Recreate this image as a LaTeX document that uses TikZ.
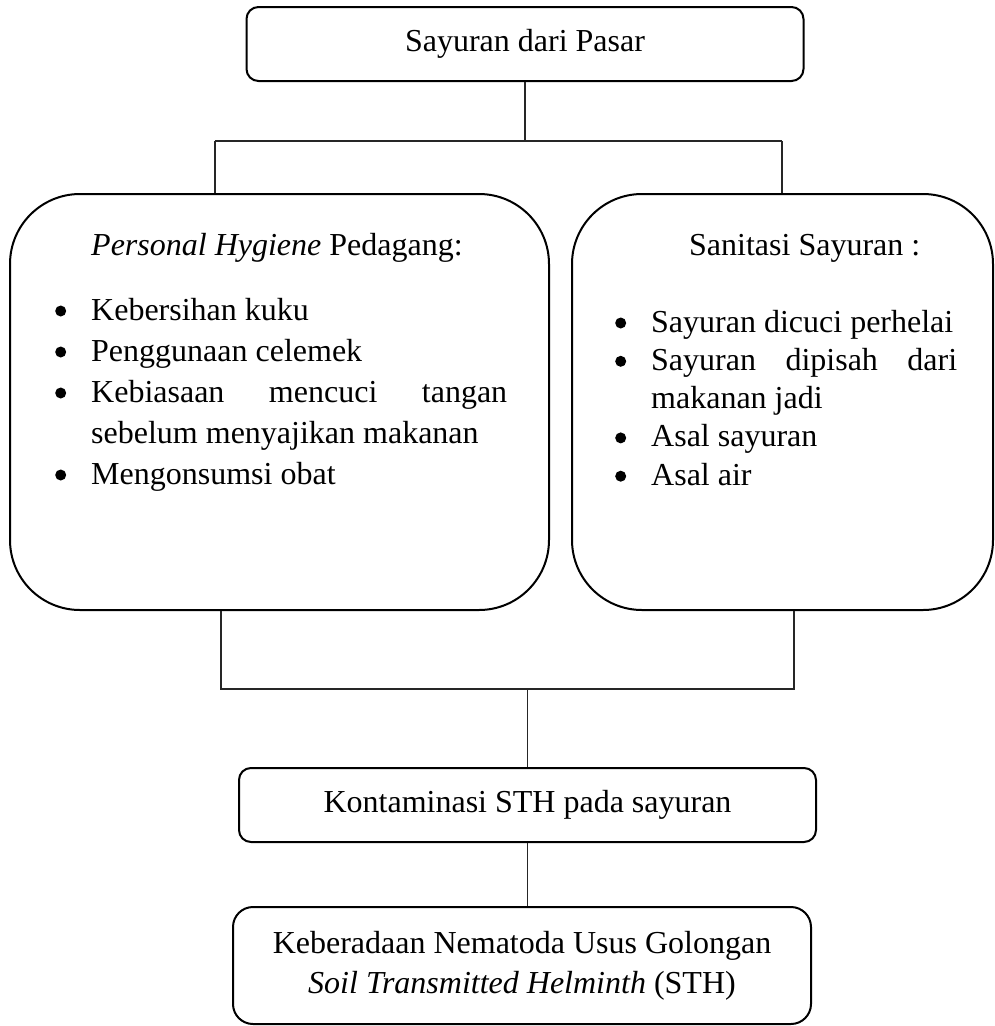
\documentclass[tikz,border=0pt]{standalone}
\usepackage{fontspec}
\setmainfont{Liberation Serif}
\usetikzlibrary{positioning}
\hyphenpenalty=10000
\tolerance=10000
\hbadness=10000
\newcommand{\titik}{\tikz[baseline=0pt]\fill (0pt,9pt) circle[radius=5.5pt];}
\newcommand{\butir}[1]{\par\noindent\llap{\titik\hskip 25pt}#1}

\begin{document}
\begin{tikzpicture}[x=1pt,y=-1pt,
    kotak/.style={draw=black,line width=2pt,rounded corners=12pt,inner sep=0pt,
      font=\fontsize{32}{40}\selectfont},
    kotakbesar/.style={draw=black,line width=2pt,rounded corners=70pt,inner sep=0pt},
    garis/.style={line width=1.3pt,black!85},
    judul/.style={inner sep=0pt,anchor=base west,font=\fontsize{32}{40}\selectfont},
    daftar/.style={inner sep=0pt,anchor=base west}]
  \useasboundingbox (0,0) rectangle (995,1026);
  % kotak
  \node[kotak,minimum width=557pt,minimum height=74pt] (pasar) at (525,44) {Sayuran dari Pasar};
  \node[kotakbesar,minimum width=539pt,minimum height=416pt] (personal) at (279.5,402) {};
  \node[kotakbesar,minimum width=421pt,minimum height=416pt] (sanitasi) at (782.5,402) {};
  \node[kotak,minimum width=577pt,minimum height=74pt] (kontaminasi) at (527.5,805) {Kontaminasi STH pada sayuran};
  \node[kotak,rounded corners=20pt,minimum width=578pt,minimum height=117pt,align=center] (nematoda) at (522,965.5)
    {Keberadaan Nematoda Usus Golongan\\\textit{Soil Transmitted Helminth} (STH)};
  % isi kotak besar
  \node[judul] (judulKiri) at (91,255) {\textit{Personal Hygiene} Pedagang:};
  \node[judul] (judulKanan) at (689,255) {Sanitasi Sayuran :};
  \node[daftar] (daftarKiri) at (91,320) {\fontsize{32}{41}\selectfont\parbox[t]{416pt}{%
    \butir{Kebersihan kuku}
    \butir{Penggunaan celemek}
    \butir{Kebiasaan mencuci tangan sebelum menyajikan makanan}
    \butir{Mengonsumsi obat}}};
  \node[daftar] (daftarKanan) at (651,332) {\fontsize{32}{38.3}\selectfont\parbox[t]{306pt}{%
    \butir{Sayuran dicuci perhelai}
    \butir{Sayuran dipisah dari makanan jadi}
    \butir{Asal sayuran}
    \butir{Asal air}}};
  % garis penghubung
  \coordinate (atasKiri) at (215,141);
  \coordinate (atasKanan) at (782,141);
  \coordinate (bawahKiri) at (221,689);
  \coordinate (bawahKanan) at (794,689);
  \draw[garis] (pasar.south) -- (pasar.south |- atasKiri);
  \draw[garis] (atasKiri) -- (atasKanan);
  \draw[garis] (atasKiri) -- (atasKiri |- personal.north);
  \draw[garis] (atasKanan) -- (atasKanan |- sanitasi.north);
  \draw[garis] (bawahKiri |- personal.south) -- (bawahKiri) -- (bawahKanan) -- (bawahKanan |- sanitasi.south);
  \draw[garis] (kontaminasi.north |- bawahKiri) -- (kontaminasi.north);
  \draw[garis] (kontaminasi.south) -- (kontaminasi.south |- nematoda.north);
\end{tikzpicture}
\end{document}
